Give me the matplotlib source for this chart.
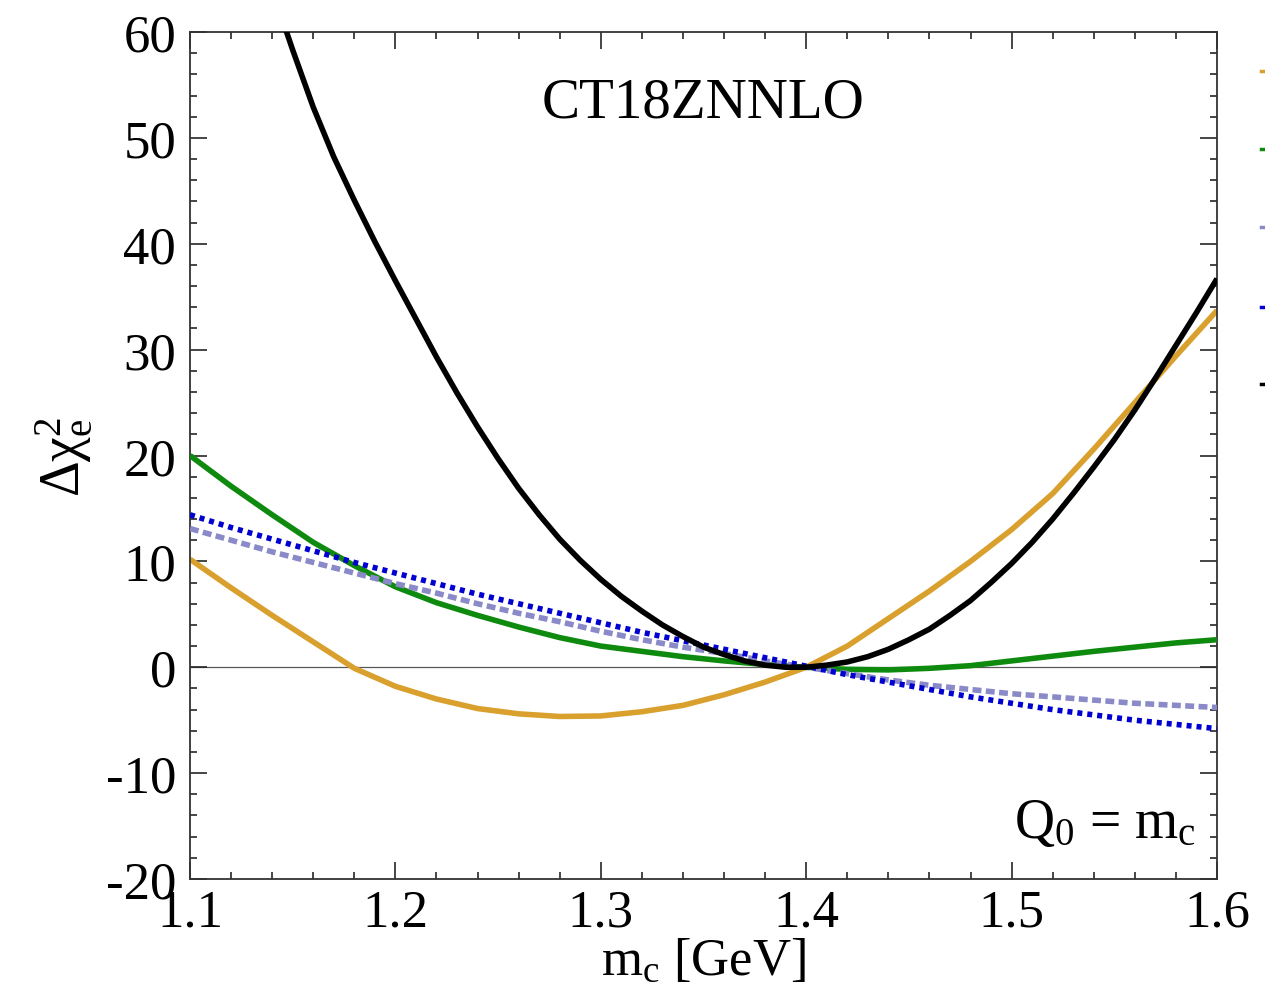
import matplotlib
matplotlib.use("Agg")
import matplotlib.pyplot as plt
from matplotlib.lines import Line2D
from matplotlib.ticker import MultipleLocator

plt.rcParams['font.family'] = ['Liberation Serif', 'DejaVu Serif']
plt.rcParams['mathtext.fontset'] = 'custom'
plt.rcParams['mathtext.rm'] = 'Liberation Serif'
plt.rcParams['mathtext.it'] = 'Liberation Serif:italic'
plt.rcParams['mathtext.bf'] = 'Liberation Serif:bold'

# ---- data ----
mc = [1.10, 1.12, 1.14, 1.16, 1.18, 1.20, 1.22, 1.24, 1.26, 1.28, 1.30, 1.32, 1.34,
      1.36, 1.38, 1.40, 1.42, 1.44, 1.46, 1.48, 1.50, 1.52, 1.54, 1.56, 1.58, 1.60]

orange = [10.2, 7.5, 4.9, 2.4, -0.1, -1.8, -3.0, -3.9, -4.4, -4.65, -4.6, -4.2, -3.6,
          -2.6, -1.4, 0.0, 2.0, 4.6, 7.2, 10.0, 13.0, 16.4, 20.6, 25.0, 29.4, 33.7]
green = [20.0, 17.1, 14.4, 11.8, 9.6, 7.6, 6.1, 4.9, 3.8, 2.8, 2.0, 1.5, 1.0,
         0.6, 0.25, 0.0, -0.2, -0.25, -0.1, 0.15, 0.6, 1.05, 1.5, 1.9, 2.3, 2.6]
purple = [13.1, 12.0, 10.9, 9.9, 8.9, 7.9, 7.0, 6.0, 5.1, 4.3, 3.4, 2.6, 1.9,
          1.3, 0.6, 0.0, -0.6, -1.2, -1.7, -2.1, -2.5, -2.8, -3.1, -3.4, -3.6, -3.8]
blue = [14.4, 13.2, 12.1, 11.0, 9.9, 8.9, 7.9, 6.9, 6.0, 5.1, 4.2, 3.3, 2.5,
        1.7, 0.9, 0.1, -0.7, -1.4, -2.1, -2.8, -3.4, -4.0, -4.5, -5.0, -5.4, -5.8]

mc_black = [1.14, 1.15, 1.16, 1.17, 1.18, 1.19, 1.20, 1.21, 1.22, 1.23, 1.24, 1.25,
            1.26, 1.27, 1.28, 1.29, 1.30, 1.31, 1.32, 1.33, 1.34, 1.35, 1.36, 1.37,
            1.38, 1.39, 1.40, 1.41, 1.42, 1.43, 1.44, 1.45, 1.46, 1.47, 1.48, 1.49,
            1.50, 1.51, 1.52, 1.53, 1.54, 1.55, 1.56, 1.57, 1.58, 1.59, 1.60]
black = [64.0, 58.3, 52.9, 48.2, 44.1, 40.2, 36.5, 32.9, 29.3, 25.9, 22.7, 19.7,
         16.9, 14.4, 12.1, 10.1, 8.3, 6.7, 5.3, 4.0, 2.9, 1.9, 1.2, 0.6,
         0.2, 0.0, 0.0, 0.2, 0.5, 1.0, 1.7, 2.6, 3.6, 4.9, 6.3, 8.0,
         9.8, 11.8, 14.0, 16.4, 18.9, 21.5, 24.3, 27.3, 30.4, 33.5, 36.7]

xticks = [1.1, 1.2, 1.3, 1.4, 1.5, 1.6]
xticklabels = ['1.1', '1.2', '1.3', '1.4', '1.5', '1.6']
yticks = [-20, -10, 0, 10, 20, 30, 40, 50, 60]
yticklabels = ['-20', '-10', '0', '10', '20', '30', '40', '50', '60']

c_orange = '#D9A02E'
c_green = '#0E8A0E'
c_purple = '#8A8AC8'
c_blue = '#0000D0'
c_black = '#000000'

W, H = 1265, 995
fig = plt.figure(figsize=(W / 100, H / 100), dpi=100)
ax = fig.add_axes([190 / W, 1 - 880 / H, (1217 - 190) / W, (880 - 33) / H])

LW = 4.0
ax.axhline(0, color='0.35', lw=0.9, zorder=1)
ax.plot(mc, orange, color=c_orange, lw=LW, solid_capstyle='butt', solid_joinstyle='round', zorder=2)
ax.plot(mc, green, color=c_green, lw=LW, solid_capstyle='butt', solid_joinstyle='round', zorder=3)
ax.plot(mc, purple, color=c_purple, lw=LW, dashes=(1.6, 0.8), dash_capstyle='butt', zorder=4)
ax.plot(mc, blue, color=c_blue, lw=LW, dashes=(0.9, 0.9), dash_capstyle='butt', zorder=5)
ax.plot(mc_black, black, color=c_black, lw=LW, solid_capstyle='butt', solid_joinstyle='round', zorder=6)

ax.set_xlim(1.1, 1.6)
ax.set_ylim(-20, 60)
ax.set_xticks(xticks)
ax.set_xticklabels(xticklabels)
ax.set_yticks(yticks)
ax.set_yticklabels(yticklabels)
ax.xaxis.set_minor_locator(MultipleLocator(0.02))
ax.yaxis.set_minor_locator(MultipleLocator(2))
ax.tick_params(which='both', direction='in', top=True, right=True, width=1.2, color='0.15')
ax.tick_params(which='major', length=12, labelsize=38, pad=7)
ax.tick_params(axis='y', which='major', pad=10)
ax.tick_params(which='minor', length=5)
for s in ax.spines.values():
    s.set_linewidth(1.3)
    s.set_color('0.2')

ax.set_xlabel(r'$\mathrm{m_c}$ [GeV]', fontsize=38, labelpad=0)
ax.set_ylabel(r'$\mathrm{\Delta\chi_e^2}$', fontsize=40, labelpad=8)

ax.text(0.5, 0.917, 'CT18ZNNLO', transform=ax.transAxes, ha='center', va='center', fontsize=41)
ax.text(0.98, 0.035, r'$\mathrm{Q_0}$ = $\mathrm{m_c}$', transform=ax.transAxes,
        ha='right', va='bottom', fontsize=40)

# clipped legend stubs at the right edge
for yy, cc in [(72, c_orange), (150, c_green), (228, c_purple), (308, c_blue), (385, c_black)]:
    fig.add_artist(Line2D([1261 / W, 1.0], [1 - yy / H, 1 - yy / H], transform=fig.transFigure,
                          color=cc, lw=2.5))

fig.savefig('out.png', dpi=100)
